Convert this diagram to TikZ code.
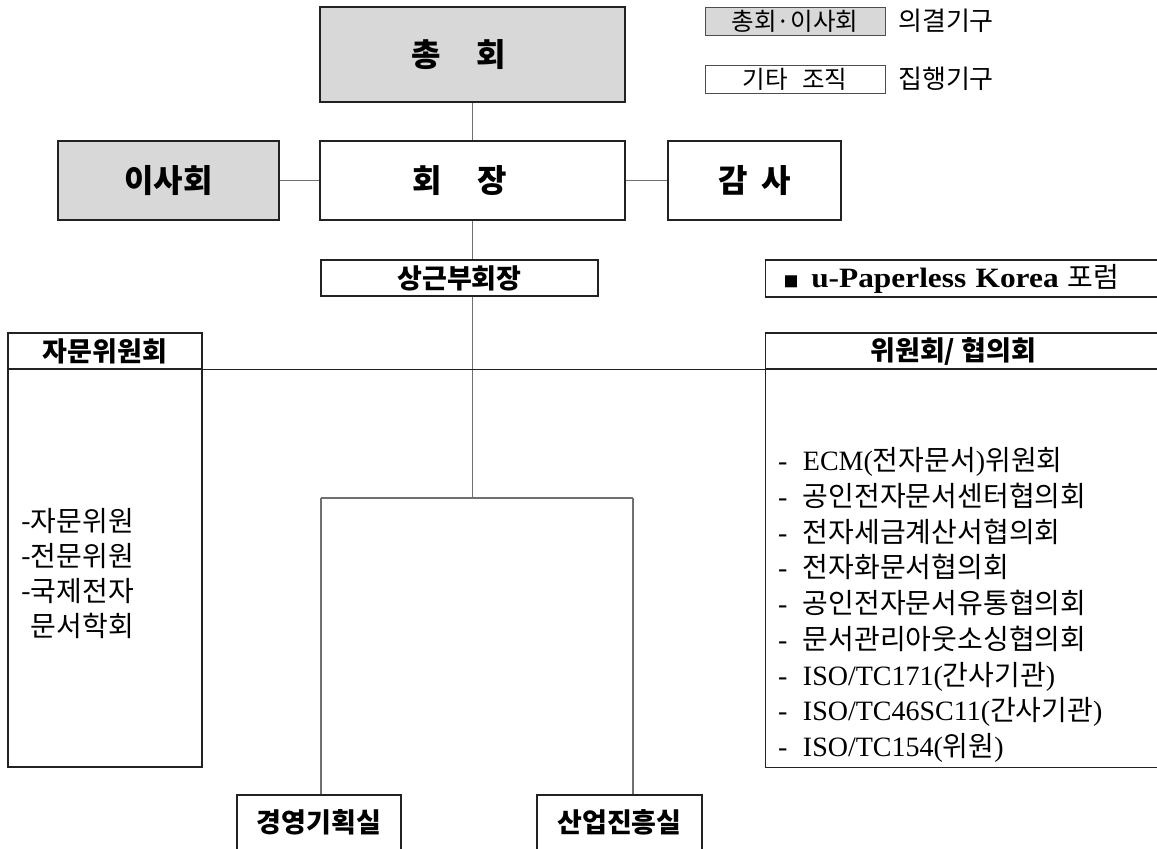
\documentclass[tikz,border=0pt]{standalone}
\usepackage{fontspec}
\setmainfont{Noto Sans CJK KR}
\newfontfamily\latinfont{Liberation Serif}
\newfontfamily\forumfont[FakeStretch=1.12]{Liberation Serif}
\newcommand{\latn}[1]{{\latinfont #1}}
\newcommand{\ldash}{\latn{-}\hspace{0.55em}}
\definecolor{councilgray}{HTML}{D8D8D8}
\definecolor{boxline}{HTML}{222222}
\definecolor{linkgray}{HTML}{707070}

\begin{document}
\begin{tikzpicture}[x=1pt, y=-1pt,
    box/.style ={draw=boxline, line width=1.3pt, fill=white, inner sep=0pt},
    council/.style ={box, fill=councilgray},
    title/.style ={font=\bfseries\fontsize{32}{38}\selectfont},
    head/.style ={font=\bfseries\fontsize{27}{32}\selectfont},
    legendbox/.style ={draw=boxline!80, line width=1pt, inner sep=0pt,
      minimum width=180, minimum height=28, font=\fontsize{24.5}{28}\selectfont},
    legendtext/.style ={anchor=west, inner sep=0pt, font=\fontsize{26}{30}\selectfont},
    listtext/.style ={anchor=west, inner sep=0pt, align=left},
    link/.style ={draw=linkgray, line width=1.4pt}]
   \clip (0,0) rectangle (1157,849);
   % top level
   \node[council, title, minimum width=305, minimum height=95] (chonghoe) at (472.5,54.5) {총\hspace{36pt}회\hspace*{28pt}};
   \node[box, title, minimum width=305, minimum height=79] (hoejang) at (472.5,180.5) {회\hspace{36pt}장\hspace*{26pt}};
   \node[council, title, minimum width=221, minimum height=79] (isahoe) at (168.5,180.5) {이사회};
   \node[box, title, minimum width=173, minimum height=79] (gamsa) at (754.5,180.5) {감\hspace{14pt}사};
   \node[box, head, minimum width=277, minimum height=36] (bugo) at (459.5,278) {상근부회장};
   \node[box, anchor=west, text width=370, inner xsep=18pt, minimum height=37, align=left,
     font=\fontsize{28}{32}\selectfont] (forum) at (765,278.5)
     {{\fontsize{15}{17}\selectfont ■}\hspace{0.45em}{\forumfont\bfseries u-Paperless Korea} 포럼};
   % legend
   \node[legendbox, fill=councilgray] (legvote) at (795,21) {총회·이사회};
   \node[legendtext] (legvotetxt) at (898,21) {의결기구};
   \node[legendbox, fill=white] (legexec) at (795,79) {기타\hspace{0.6em}조직};
   \node[legendtext] (legexectxt) at (898,79) {집행기구};
   % committees
   \node[box, head, minimum width=194, minimum height=36] (jamunhead) at (105,351) {자문위원회};
   \node[box, minimum width=194, minimum height=398] (jamunbody) at (105,568) {};
   \node[listtext, font=\fontsize{28}{35}\selectfont] (jamunlist) at (21,573.5)
     {-자문위원\\-전문위원\\-국제전자\\\phantom{-}문서학회};
   \node[box, head, anchor=west, minimum width=405, minimum height=36] (wiwonhead) at (765,351)
     {위원회/ 협의회\hspace*{30pt}};
   \node[box, anchor=north west, minimum width=405, minimum height=398] (wiwonbody) at (765,369) {};
   \node[listtext, font=\fontsize{28}{35.75}\selectfont] (wiwonlist) at (778,605)
     {\ldash\latn{ECM(}전자문서\latn{)}위원회\\
      \ldash 공인전자문서센터협의회\\
      \ldash 전자세금계산서협의회\\
      \ldash 전자화문서협의회\\
      \ldash 공인전자문서유통협의회\\
      \ldash 문서관리아웃소싱협의회\\
      \ldash\latn{ISO/TC171(}간사기관\latn{)}\\
      \ldash\latn{ISO/TC46SC11(}간사기관\latn{)}\\
      \ldash\latn{ISO/TC154(}위원\latn{)}};
   % offices
   \node[box, head, minimum width=164, minimum height=70] (gyeong) at (319,830) {\raisebox{18pt}{경영기획실}};
   \node[box, head, minimum width=165, minimum height=70] (saneop) at (619.5,830) {\raisebox{18pt}{산업진흥실}};
   % connectors
   \coordinate (split) at (472.5,498);
   \coordinate (leftdrop) at (321,498);
   \coordinate (rightdrop) at (633,498);
   \draw[link] (chonghoe) to (hoejang);
   \draw[link] (isahoe) to (hoejang);
   \draw[link] (hoejang) to (gamsa);
   \draw[link] (hoejang.south) to (hoejang.south |- bugo.north);
   \draw[link] (hoejang.south |- bugo.south) to (split);
   \draw[link] (leftdrop) to (rightdrop);
   \draw[link] (leftdrop) to (leftdrop |- gyeong.north);
   \draw[link] (rightdrop) to (rightdrop |- saneop.north);
   \draw[draw=boxline, line width=1.3pt] (jamunhead.south east) to (wiwonhead.south west);
\end{tikzpicture}
\end{document}
